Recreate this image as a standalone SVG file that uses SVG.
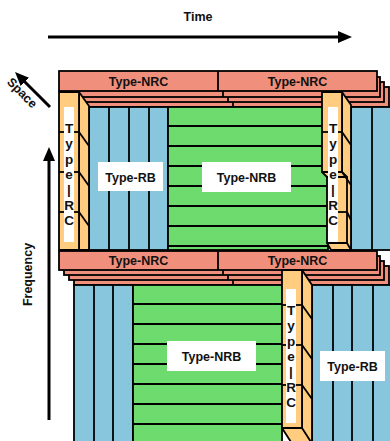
<svg xmlns="http://www.w3.org/2000/svg" width="390" height="441" viewBox="0 0 390 441">
<defs>
<style>
.ln{stroke:#000;stroke-width:1.8;stroke-linejoin:miter}
.nrc{fill:#f0907c;stroke:#000;stroke-width:1.8}
.rc{fill:#ffcc80;stroke:#000;stroke-width:1.8;stroke-linejoin:round}
.rb{fill:#88c6dd;stroke:#000;stroke-width:1.8}
.nrb{fill:#6ddb6d;stroke:#000;stroke-width:1.8}
.lbl{fill:#fff;stroke:none}
.t{font-family:"Liberation Sans",Arial,sans-serif;font-weight:bold;font-size:12.5px;fill:#111;text-anchor:middle}
.v{font-family:"Liberation Sans",Arial,sans-serif;font-weight:bold;font-size:13.5px;fill:#111;text-anchor:middle}
.ax{stroke:#000;stroke-width:3;fill:none}
</style>
<marker id="ah" markerUnits="userSpaceOnUse" markerWidth="16" markerHeight="12" refX="6" refY="6" orient="auto">
<path d="M0,0 L14,6 L0,12 z" fill="#000"/>
</marker>
</defs>
<rect width="390" height="441" fill="#fff"/>

<g id="connectors">
<line class="ax" x1="48" y1="37" x2="344" y2="37" marker-end="url(#ah)"/>
<line class="ax" x1="50" y1="107" x2="20.7" y2="77.7" marker-end="url(#ah)"/>
<line class="ax" x1="49" y1="420" x2="49" y2="155" marker-end="url(#ah)"/>
</g>

<g id="axis-labels">
<text class="t" x="198" y="21">Time</text>
<text class="t" transform="translate(22,93) rotate(45)" y="4">Space</text>
<text class="t" transform="translate(32,274.5) rotate(-90)">Frequency</text>
</g>

<g id="nrc-top">
<rect class="nrc" x="74" y="87" width="315" height="20"/>
<line class="ln" x1="233" y1="87" x2="233" y2="107"/>
<rect class="nrc" x="69" y="82" width="315" height="20"/>
<line class="ln" x1="228" y1="82" x2="228" y2="102"/>
<rect class="nrc" x="64" y="77" width="316" height="20"/>
<line class="ln" x1="223" y1="77" x2="223" y2="97"/>
<rect class="nrc" x="59" y="71" width="318" height="20"/>
<line class="ln" x1="218" y1="71" x2="218" y2="91"/>
<text class="t" x="138.5" y="85.5">Type-NRC</text>
<text class="t" x="297.5" y="85.5">Type-NRC</text>
</g>

<g id="rb-top-left">
<rect class="rb" x="89" y="107" width="79" height="143"/>
<line class="ln" x1="109" y1="107" x2="109" y2="250"/>
<line class="ln" x1="129" y1="107" x2="129" y2="250"/>
<line class="ln" x1="149" y1="107" x2="149" y2="250"/>
<rect class="lbl" x="98" y="162" width="65" height="29"/>
<text class="t" x="130.5" y="181.5">Type-RB</text>
</g>

<g id="nrb-top">
<rect class="nrb" x="168" y="107" width="160" height="143"/>
<line class="ln" x1="168" y1="126" x2="328" y2="126"/>
<line class="ln" x1="168" y1="146" x2="328" y2="146"/>
<line class="ln" x1="168" y1="166" x2="328" y2="166"/>
<line class="ln" x1="168" y1="186" x2="328" y2="186"/>
<line class="ln" x1="168" y1="206" x2="328" y2="206"/>
<line class="ln" x1="168" y1="226" x2="328" y2="226"/>
<line class="ln" x1="168" y1="246" x2="328" y2="246"/>
<rect class="lbl" x="202" y="162" width="89" height="30"/>
<text class="t" x="246.5" y="181.5">Type-NRB</text>
</g>

<g id="rb-top-right">
<rect class="rb" x="351" y="107" width="42" height="143"/>
<line class="ln" x1="372" y1="107" x2="372" y2="250"/>
</g>

<g id="rc-top-left">
<path class="rc" d="M79,92 L89,106 L89,250 L79,250 z"/>
<rect class="rc" x="59" y="92" width="20" height="158"/>
<line class="ln" x1="59" y1="132" x2="79" y2="132"/>
<line class="ln" x1="59" y1="172" x2="79" y2="172"/>
<line class="ln" x1="59" y1="212" x2="79" y2="212"/>
<line class="ln" x1="79" y1="132" x2="89" y2="146"/>
<line class="ln" x1="79" y1="172" x2="89" y2="186"/>
<line class="ln" x1="79" y1="212" x2="89" y2="226"/>
<rect class="lbl" x="64" y="107" width="10" height="135"/>
<text class="v" x="69" y="133">T<tspan x="69" dy="15.3">y</tspan><tspan x="69" dy="15.3">p</tspan><tspan x="69" dy="15.3">e</tspan><tspan x="69" dy="15.3">|</tspan><tspan x="69" dy="15.3">R</tspan><tspan x="69" dy="15.3">C</tspan></text>
</g>

<g id="rc-top-right">
<path class="rc" d="M342,92 L351,105 L351,250 L342,250 z"/>
<path class="rc" d="M327,243 L347,243 L351,250 L331,250 z"/>
<rect class="rc" x="327" y="177" width="20" height="66"/>
<path class="rc" d="M322,172 L342,172 L347,177 L327,177 z"/>
<rect class="rc" x="322" y="92" width="20" height="80"/>
<line class="ln" x1="322" y1="132" x2="342" y2="132"/>
<line class="ln" x1="342" y1="132" x2="351" y2="145"/>
<line class="ln" x1="342" y1="172" x2="351" y2="185"/>
<line class="ln" x1="327" y1="212" x2="347" y2="212"/>
<line class="ln" x1="347" y1="212" x2="351" y2="220"/>
<rect class="lbl" x="328" y="107" width="10" height="135"/>
<text class="v" x="333" y="133">T<tspan x="333" dy="15.3">y</tspan><tspan x="333" dy="15.3">p</tspan><tspan x="333" dy="15.3">e</tspan><tspan x="333" dy="15.3">|</tspan><tspan x="333" dy="15.3">R</tspan><tspan x="333" dy="15.3">C</tspan></text>
</g>

<g id="nrc-middle">
<rect class="nrc" x="74" y="266" width="315" height="19"/>
<line class="ln" x1="233" y1="266" x2="233" y2="285"/>
<rect class="nrc" x="69" y="261" width="315" height="19"/>
<line class="ln" x1="228" y1="261" x2="228" y2="280"/>
<rect class="nrc" x="64" y="256" width="316" height="19"/>
<line class="ln" x1="223" y1="256" x2="223" y2="275"/>
<rect class="nrc" x="59" y="251" width="318" height="19"/>
<line class="ln" x1="218" y1="251" x2="218" y2="270"/>
<text class="t" x="138.5" y="265">Type-NRC</text>
<text class="t" x="297.5" y="265">Type-NRC</text>
</g>

<g id="rb-bottom-left">
<rect class="rb" x="74" y="285" width="59" height="160"/>
<line class="ln" x1="94" y1="285" x2="94" y2="445"/>
<line class="ln" x1="113" y1="285" x2="113" y2="445"/>
</g>

<g id="nrb-bottom">
<rect class="nrb" x="133" y="285" width="149" height="160"/>
<line class="ln" x1="133" y1="304" x2="282" y2="304"/>
<line class="ln" x1="133" y1="324" x2="282" y2="324"/>
<line class="ln" x1="133" y1="344" x2="282" y2="344"/>
<line class="ln" x1="133" y1="364" x2="282" y2="364"/>
<line class="ln" x1="133" y1="384" x2="282" y2="384"/>
<line class="ln" x1="133" y1="404" x2="282" y2="404"/>
<line class="ln" x1="133" y1="424" x2="282" y2="424"/>
<rect class="lbl" x="167" y="341" width="89" height="30"/>
<text class="t" x="211.5" y="360.5">Type-NRB</text>
</g>

<g id="rb-bottom-right">
<rect class="rb" x="312" y="285" width="81" height="160"/>
<line class="ln" x1="333" y1="285" x2="333" y2="445"/>
<line class="ln" x1="352" y1="285" x2="352" y2="445"/>
<line class="ln" x1="373" y1="285" x2="373" y2="445"/>
<rect class="lbl" x="320" y="351" width="65" height="30"/>
<text class="t" x="352.5" y="370.5">Type-RB</text>
</g>

<g id="rc-bottom">
<path class="rc" d="M302,270 L312,285 L312,445 L302,445 z"/>
<path class="rc" d="M282,428 L302,428 L311,442 L291,442 z"/>
<rect class="rc" x="282" y="270" width="20" height="158"/>
<line class="ln" x1="282" y1="305" x2="302" y2="305"/>
<line class="ln" x1="282" y1="345" x2="302" y2="345"/>
<line class="ln" x1="282" y1="385" x2="302" y2="385"/>
<line class="ln" x1="302" y1="305" x2="312" y2="319"/>
<line class="ln" x1="302" y1="345" x2="312" y2="359"/>
<line class="ln" x1="302" y1="385" x2="312" y2="399"/>
<rect class="lbl" x="286" y="289" width="10" height="134"/>
<text class="v" x="291" y="315">T<tspan x="291" dy="15.3">y</tspan><tspan x="291" dy="15.3">p</tspan><tspan x="291" dy="15.3">e</tspan><tspan x="291" dy="15.3">|</tspan><tspan x="291" dy="15.3">R</tspan><tspan x="291" dy="15.3">C</tspan></text>
</g>
</svg>
